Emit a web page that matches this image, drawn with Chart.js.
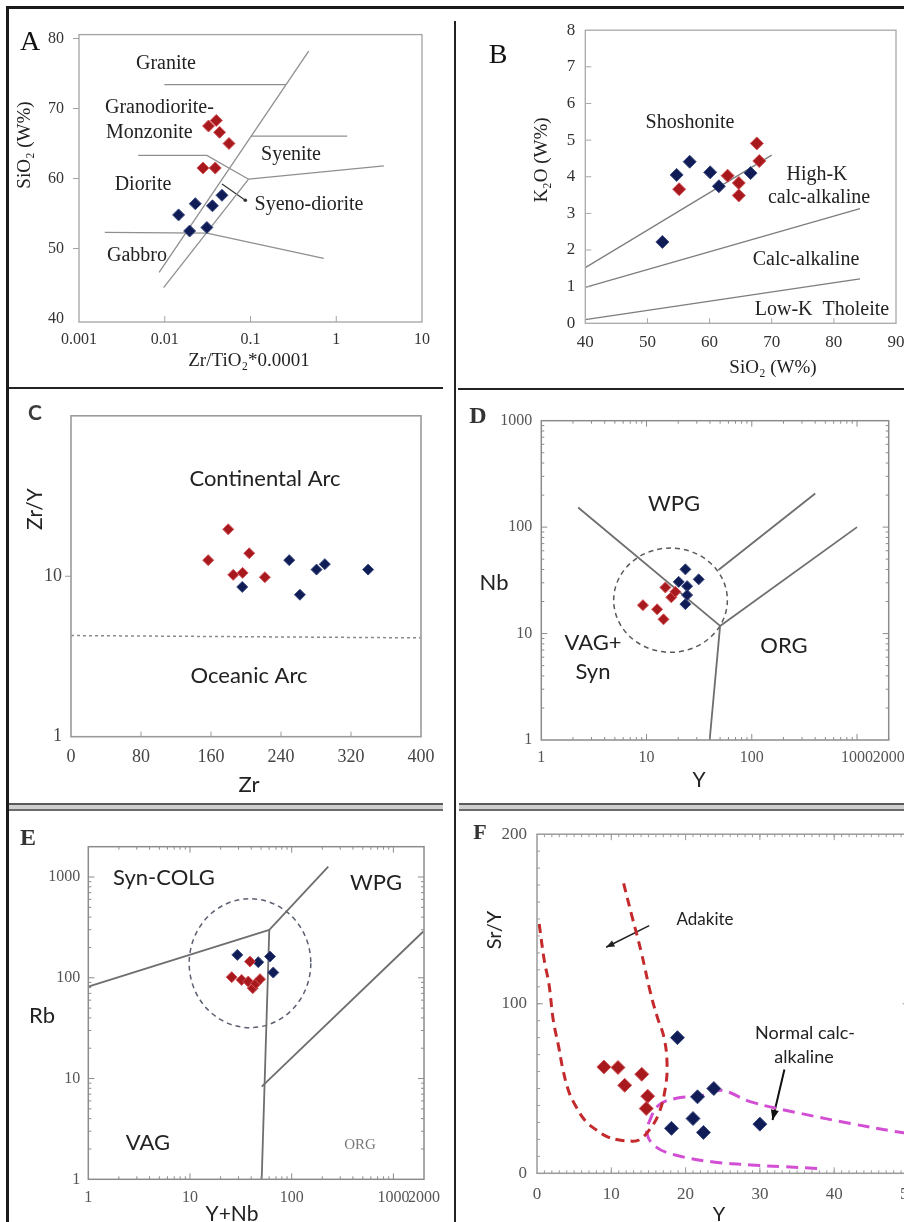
<!DOCTYPE html>
<html><head><meta charset="utf-8">
<script src="https://cdn.jsdelivr.net/npm/chart.js@4.4.1/dist/chart.umd.min.js"></script>
<style>
html,body{margin:0;padding:0;background:#fff;width:904px;height:1222px;overflow:hidden;position:relative}
canvas{position:absolute}
.ln{position:absolute;background:#1a1a1a}
.band{position:absolute;height:4px;background:#cfcfcf;border-top:2px solid #5a5a5a;border-bottom:2px solid #6a6a6a}
</style></head><body>
<canvas id="cA"></canvas>
<canvas id="cB"></canvas>
<canvas id="cC"></canvas>
<canvas id="cD"></canvas>
<canvas id="cE"></canvas>
<canvas id="cF"></canvas>
<div class="ln" style="left:6px;top:6px;width:898px;height:3px"></div>
<div class="ln" style="left:6px;top:6px;width:3px;height:1216px"></div>
<div class="ln" style="left:454px;top:21px;width:2px;height:1201px;background:#222"></div>
<div class="ln" style="left:9px;top:387px;width:434px;height:2px;background:#222"></div>
<div class="ln" style="left:458px;top:388px;width:446px;height:2px;background:#222"></div>
<div class="band" style="left:9px;top:803px;width:434px"></div>
<div class="band" style="left:459px;top:803px;width:445px"></div>
<script>
// ---------------- DATA ----------------
// Panel A: Zr/TiO2*0.0001 vs SiO2
const A_xTicks = [0.001, 0.01, 0.1, 1, 10];
const A_xLabels = ['0.001', '0.01', '0.1', '1', '10'];
const A_yTicks = [40, 50, 60, 70, 80];
const A_yLabels = ['40', '50', '60', '70', '80'];
const A_red = [[0.0324, 67.5], [0.0399, 68.3], [0.0436, 66.6], [0.0561, 65.0], [0.0279, 61.5], [0.0388, 61.5]];
const A_blue = [[0.0145, 54.8], [0.0227, 56.4], [0.0195, 52.5], [0.0310, 53.0], [0.0360, 56.1], [0.0465, 57.6]];
const A_fieldLines = [
  [[0.0086, 46.6], [0.477, 78.2]],
  [[0.0097, 44.4], [0.095, 59.9]],
  [[0.0099, 73.4], [0.259, 73.4]],
  [[0.0049, 63.3], [0.031, 63.3], [0.095, 59.9]],
  [[0.095, 59.9], [3.59, 61.8]],
  [[0.102, 66.05], [1.34, 66.05]],
  [[0.0020, 52.3], [0.031, 52.2], [0.714, 48.6]]
];
const A_pointer = [[0.0465, 59.2], [0.087, 56.9]];

// Panel B: SiO2 vs K2O
const B_xTicks = [40, 50, 60, 70, 80, 90];
const B_xLabels = ['40', '50', '60', '70', '80', '90'];
const B_yTicks = [0, 1, 2, 3, 4, 5, 6, 7, 8];
const B_yLabels = ['0', '1', '2', '3', '4', '5', '6', '7', '8'];
const B_red = [[55.1, 3.66], [62.9, 4.03], [64.7, 3.83], [64.7, 3.49], [67.6, 4.91], [68.0, 4.43]];
const B_blue = [[52.4, 2.22], [54.7, 4.05], [56.8, 4.41], [60.1, 4.12], [61.5, 3.74], [66.6, 4.10]];
const B_fieldLines = [
  [[40, 1.52], [70, 4.59]],
  [[40, 0.98], [84.2, 3.13]],
  [[40, 0.10], [84.2, 1.21]]
];

// Panel C: Zr vs Zr/Y
const C_xTicks = [0, 80, 160, 240, 320, 400];
const C_xLabels = ['0', '80', '160', '240', '320', '400'];
const C_yTicks = [1, 10];
const C_yLabels = ['1', '10'];
const C_red = [[156.8, 12.6], [179.7, 19.6], [185.4, 10.2], [196.1, 10.5], [203.7, 13.9], [221.6, 9.86]];
const C_blue = [[195.7, 8.58], [249.4, 12.6], [261.6, 7.67], [280.6, 11.0], [290.1, 11.9], [339.6, 11.0]];
const C_divider = [[0, 4.27], [400, 4.13]];

// Panel D: Y vs Nb
const D_xTicks = [1, 10, 100, 1000, 2000];
const D_xLabels = ['1', '10', '100', '1000', '2000'];
const D_yTicks = [1, 10, 100, 1000];
const D_yLabels = ['1', '10', '100', '1000'];
const D_red = [[9.24, 18.5], [12.6, 16.9], [14.5, 13.6], [15.1, 27.1], [17.2, 21.9], [18.8, 24.7]];
const D_blue = [[23.4, 40.1], [20.2, 30.6], [24.3, 27.9], [31.3, 32.3], [23.4, 18.9], [24.3, 23.0]];
const D_fieldLines = [
  [[2.24, 153], [50, 11.8]],
  [[50, 11.8], [39.8, 1]],
  [[50, 11.8], [1000, 100]],
  [[48.2, 39.5], [401, 207]]
];
const D_circle = [16.9, 20.6];

// Panel E: Y+Nb vs Rb
const E_xTicks = [1, 10, 100, 1000, 2000];
const E_xLabels = ['1', '10', '100', '1000', '2000'];
const E_yTicks = [1, 10, 100, 1000];
const E_yLabels = ['1', '10', '100', '1000'];
const E_red = [[38.9, 144.8], [25.7, 101.4], [32.2, 95.3], [37.4, 91.7], [41.4, 78.8], [44.5, 88.0], [48.8, 96.9]];
const E_blue = [[29.2, 168.8], [46.9, 142.9], [61.2, 162.5], [65.9, 112.7]];
const E_fieldLines = [
  [[1, 81.8], [60.2, 299]],
  [[60.2, 299], [229, 1271]],
  [[60.2, 299], [50.7, 1]],
  [[50.7, 8.31], [1968, 288]]
];
const E_circle = [38.9, 139.6];

// Panel F: Y vs Sr/Y
const F_xTicks = [0, 10, 20, 30, 40, 50];
const F_xLabels = ['0', '10', '20', '30', '40', '50'];
const F_yTicks = [0, 100, 200];
const F_yLabels = ['0', '100', '200'];
const F_red = [[9.0, 62.7], [10.9, 62.4], [11.8, 51.9], [14.1, 58.4], [14.9, 45.5], [14.7, 38.2]];
const F_blue = [[18.9, 80], [18.1, 26.5], [21.6, 45.1], [21.0, 32.3], [22.4, 24.1], [23.8, 50], [30.0, 29]];
const F_adakite = [[0.3, 147], [1.0, 125], [1.6, 112], [2.2, 90], [2.9, 75], [3.5, 61], [4.3, 48], [5.3, 39], [6.5, 31],
  [8.0, 25.5], [9.5, 21.5], [11.1, 19.6], [12.5, 19], [13.7, 19.6], [15.1, 25.5], [16.4, 35.3], [17.3, 51], [17.5, 65],
  [17.1, 80], [16.2, 92], [15.3, 106], [14.0, 131], [12.7, 153], [11.6, 172]];
const F_normal = [[37.7, 2.9], [33.3, 3.9], [28.8, 4.9], [23.5, 6.8], [18.6, 10.8], [16.0, 15.6], [14.8, 23.5], [15.2, 31.4],
  [16.4, 40.2], [18.6, 44.1], [22.6, 46.1], [24.8, 49], [28.8, 42.1], [35.5, 35.3], [42.2, 29.4], [48.4, 24.5], [52, 22.5]];
const F_arrows = [[[15.1, 146.1], [9.3, 133.3]], [[33.3, 61.2], [31.7, 31.4]]];

// ---------------- RENDERING ----------------
const SERIF = "'Liberation Serif','DejaVu Serif',serif";
const SANS = "Lato,'Open Sans','Noto Sans',sans-serif";
const RED = '#a8191d', BLUE = '#0f1c55';
const RED_EDGE = '#d2555a', BLUE_EDGE = '#3a4a80';
const DECO = {};

function logMinor(maxDec) {
  const out = [];
  for (let d = 1; d <= maxDec; d *= 10) for (let k = 2; k <= 9; k++) out.push(k * d);
  return out;
}
function range(a, b, s) { const o = []; for (let v = a; v <= b + 1e-9; v += s) o.push(v); return o; }

const decoPlugin = {
  id: 'deco',
  beforeDatasetsDraw(chart) {
    const d = DECO[chart.canvas.id]; if (!d) return;
    const ctx = chart.ctx, xs = chart.scales.x, ys = chart.scales.y, ca = chart.chartArea;
    ctx.save();
    ctx.beginPath(); ctx.rect(ca.left, ca.top, ca.right - ca.left, ca.bottom - ca.top); ctx.clip();
    (d.ellipses || []).forEach(e => {
      const cx = xs.getPixelForValue(e.c[0]), cy = ys.getPixelForValue(e.c[1]);
      const rx = Math.abs(xs.getPixelForValue(e.c[0] * Math.pow(10, e.r[0])) - xs.getPixelForValue(e.c[0] / Math.pow(10, e.r[0]))) / 2;
      const ry = Math.abs(ys.getPixelForValue(e.c[1] * Math.pow(10, e.r[1])) - ys.getPixelForValue(e.c[1] / Math.pow(10, e.r[1]))) / 2;
      ctx.setLineDash(e.dash); ctx.strokeStyle = e.color; ctx.lineWidth = e.width;
      ctx.beginPath(); ctx.ellipse(cx, cy, rx, ry, 0, 0, Math.PI * 2); ctx.stroke();
    });
    ctx.setLineDash([]);
    (d.arrows || []).forEach(a => {
      const x0 = xs.getPixelForValue(a.p[0][0]), y0 = ys.getPixelForValue(a.p[0][1]);
      const x1 = xs.getPixelForValue(a.p[1][0]), y1 = ys.getPixelForValue(a.p[1][1]);
      ctx.strokeStyle = a.color; ctx.fillStyle = a.color; ctx.lineWidth = a.width;
      ctx.beginPath(); ctx.moveTo(x0, y0); ctx.lineTo(x1, y1); ctx.stroke();
      if (a.head === 'dot') { ctx.beginPath(); ctx.arc(x1, y1, a.size, 0, Math.PI * 2); ctx.fill(); }
      else {
        const ang = Math.atan2(y1 - y0, x1 - x0), s = a.size;
        ctx.beginPath(); ctx.moveTo(x1, y1);
        ctx.lineTo(x1 - s * Math.cos(ang - 0.38), y1 - s * Math.sin(ang - 0.38));
        ctx.lineTo(x1 - s * Math.cos(ang + 0.38), y1 - s * Math.sin(ang + 0.38));
        ctx.closePath(); ctx.fill();
      }
    });
    ctx.restore();
  },
  afterDraw(chart) {
    const d = DECO[chart.canvas.id]; if (!d) return;
    const ctx = chart.ctx, ca = chart.chartArea;
    ctx.save();
    ctx.strokeStyle = d.frameColor; ctx.lineWidth = d.frameWidth;
    ctx.strokeRect(ca.left, ca.top, ca.right - ca.left, ca.bottom - ca.top);
    (d.ticks || []).forEach(t => {
      const sc = t.axis === 'x' ? chart.scales.x : chart.scales.y;
      ctx.strokeStyle = t.color || d.frameColor; ctx.lineWidth = t.width || 1;
      ctx.beginPath();
      t.values.forEach(v => {
        const p = sc.getPixelForValue(v);
        if (t.side === 'bottom') { ctx.moveTo(p, ca.bottom); ctx.lineTo(p, ca.bottom - t.len); }
        else if (t.side === 'top') { ctx.moveTo(p, ca.top); ctx.lineTo(p, ca.top + t.len); }
        else if (t.side === 'left') { ctx.moveTo(ca.left, p); ctx.lineTo(ca.left + t.len, p); }
        else { ctx.moveTo(ca.right, p); ctx.lineTo(ca.right - t.len, p); }
      });
      ctx.stroke();
    });
    (d.texts || []).forEach(t => {
      ctx.save();
      ctx.font = t.font; ctx.fillStyle = t.color || '#222';
      ctx.textAlign = t.align || 'center'; ctx.textBaseline = 'middle';
      ctx.translate(t.x - d.origin[0], t.y - d.origin[1]);
      if (t.rot) ctx.rotate(t.rot);
      ctx.fillText(t.t, 0, 0);
      ctx.restore();
    });
    ctx.restore();
  }
};
Chart.register(decoPlugin);

function pts(arr) { return arr.map(p => ({ x: p[0], y: p[1] })); }
function markers(arr, color, edge, r) {
  return { data: pts(arr), pointStyle: 'rectRot', pointRadius: r, backgroundColor: color, borderColor: edge, borderWidth: 1, showLine: false };
}
function line(arr, color, w, extra) {
  return Object.assign({ data: pts(arr), showLine: true, pointRadius: 0, borderColor: color, borderWidth: w, tension: 0, fill: false }, extra || {});
}
function axis(c, which, size) {
  return {
    type: c.type, min: c.min, max: c.max, position: which === 'x' ? 'bottom' : 'left',
    grid: { display: false, drawTicks: false }, border: { display: false },
    ticks: {
      autoSkip: false, maxRotation: 0, minRotation: 0, padding: c.pad, color: c.color,
      font: { family: c.family, size: c.size }, callback: (v, i) => c.labels[i]
    },
    afterBuildTicks: (s) => { s.ticks = c.values.map(v => ({ value: v })); },
    afterFit: (s) => { if (which === 'x') s.height = size; else s.width = size; }
  };
}
function makeChart(id, box, plot, xc, yc, datasets, deco) {
  const cv = document.getElementById(id);
  cv.width = box[2]; cv.height = box[3];
  cv.style.left = box[0] + 'px'; cv.style.top = box[1] + 'px';
  DECO[id] = Object.assign({ origin: [box[0], box[1]] }, deco);
  const padTop = plot[1] - box[1], padRight = box[0] + box[2] - plot[2];
  const yW = plot[0] - box[0], xH = box[1] + box[3] - plot[3];
  new Chart(cv, {
    type: 'scatter', data: { datasets },
    options: {
      responsive: false, animation: false, devicePixelRatio: 1, events: [],
      layout: { padding: { top: padTop, right: padRight, left: 0, bottom: 0 } },
      plugins: { legend: { display: false }, tooltip: { enabled: false } },
      scales: { x: axis(xc, 'x', xH), y: axis(yc, 'y', yW) }
    }
  });
}

// ---- Panel A ----
makeChart('cA', [8, 10, 442, 376], [79, 30, 422, 322],
  { type: 'logarithmic', min: 0.001, max: 10, values: A_xTicks, labels: A_xLabels, pad: 8, color: '#333', family: SERIF, size: 16 },
  { type: 'linear', min: 39.5, max: 80.56, values: A_yTicks, labels: A_yLabels, pad: 15, color: '#333', family: SERIF, size: 16 },
  [markers(A_red, RED, RED_EDGE, 6), markers(A_blue, BLUE, BLUE_EDGE, 6)].concat(A_fieldLines.map(l => line(l, '#8f8f8f', 1.3))),
  {
    frameColor: '#a3a3a3', frameWidth: 1.3,
    ticks: [{ axis: 'x', side: 'bottom', values: [0.01, 0.1, 1], len: 6 }, { axis: 'y', side: 'left', values: [50, 60, 70, 80], len: -6 }],
    arrows: [{ p: A_pointer, color: '#333', width: 1.2, head: 'dot', size: 1.8 }],
    texts: [
      { t: 'A', x: 30, y: 43, font: `28px ${SERIF}`, color: '#111' },
      { t: 'Granite', x: 166, y: 64, font: `20px ${SERIF}` },
      { t: 'Granodiorite-', x: 105, y: 108, font: `20px ${SERIF}`, align: 'left' },
      { t: 'Monzonite', x: 106, y: 133, font: `20px ${SERIF}`, align: 'left' },
      { t: 'Syenite', x: 291, y: 155, font: `20px ${SERIF}` },
      { t: 'Diorite', x: 143, y: 185, font: `20px ${SERIF}` },
      { t: 'Syeno-diorite', x: 309, y: 205, font: `20px ${SERIF}` },
      { t: 'Gabbro', x: 137, y: 256, font: `20px ${SERIF}` },
      { t: 'Zr/TiO₂*0.0001', x: 249, y: 361, font: `19px ${SERIF}` },
      { t: 'SiO₂ (W%)', x: 25, y: 145, font: `19px ${SERIF}`, rot: -Math.PI / 2 }
    ]
  });

// ---- Panel B ----
makeChart('cB', [458, 10, 460, 376], [585.3, 25.5, 896, 323.3],
  { type: 'linear', min: 40, max: 90, values: B_xTicks, labels: B_xLabels, pad: 9, color: '#333', family: SERIF, size: 17 },
  { type: 'linear', min: 0, max: 8, values: B_yTicks, labels: B_yLabels, pad: 10, color: '#333', family: SERIF, size: 17 },
  [markers(B_red, RED, RED_EDGE, 6.5), markers(B_blue, BLUE, BLUE_EDGE, 6.5)].concat(B_fieldLines.map(l => line(l, '#7d7d7d', 1.3))),
  {
    frameColor: '#a8a8a8', frameWidth: 1.3,
    ticks: [{ axis: 'x', side: 'bottom', values: [50, 60, 70, 80], len: 5 }, { axis: 'y', side: 'left', values: [1, 2, 3, 4, 5, 6, 7], len: 6 }],
    texts: [
      { t: 'B', x: 498, y: 56, font: `28px ${SERIF}`, color: '#111' },
      { t: 'Shoshonite', x: 690, y: 123, font: `20px ${SERIF}` },
      { t: 'High-K', x: 817, y: 175, font: `20px ${SERIF}` },
      { t: 'calc-alkaline', x: 819, y: 198, font: `20px ${SERIF}` },
      { t: 'Calc-alkaline', x: 806, y: 260, font: `20px ${SERIF}` },
      { t: 'Low-K  Tholeite', x: 822, y: 310, font: `20px ${SERIF}` },
      { t: 'SiO₂ (W%)', x: 773, y: 368, font: `19px ${SERIF}` },
      { t: 'K₂O (W%)', x: 542, y: 160, font: `19px ${SERIF}`, rot: -Math.PI / 2 }
    ]
  });

// ---- Panel C ----
makeChart('cC', [8, 396, 442, 404], [71, 407.3, 421, 736.7],
  { type: 'linear', min: 0, max: 400, values: C_xTicks, labels: C_xLabels, pad: 10, color: '#444', family: SERIF, size: 18 },
  { type: 'logarithmic', min: 1, max: 100, values: C_yTicks, labels: C_yLabels, pad: 9, color: '#444', family: SERIF, size: 18 },
  [markers(C_red, RED, RED_EDGE, 5.5), markers(C_blue, BLUE, BLUE_EDGE, 5.5), line(C_divider, '#8a8a8a', 1.5, { borderDash: [3, 3] })],
  {
    frameColor: '#9a9a9a', frameWidth: 1.6,
    ticks: [{ axis: 'x', side: 'bottom', values: [80, 160, 240, 320], len: 5 }, { axis: 'y', side: 'left', values: [10], len: -6 }],
    texts: [
      { t: 'C', x: 35, y: 413, font: `bold 21px ${SANS}`, color: '#3a3a3a' },
      { t: 'Continental Arc', x: 265, y: 479, font: `22px ${SANS}` },
      { t: 'Oceanic Arc', x: 249, y: 676, font: `22px ${SANS}` },
      { t: 'Zr', x: 249, y: 785, font: `22px ${SANS}` },
      { t: 'Zr/Y', x: 35, y: 509, font: `21px ${SANS}`, rot: -Math.PI / 2 }
    ]
  });

// ---- Panel D ----
const logMinorD = logMinor(100);
makeChart('cD', [458, 396, 460, 404], [541.3, 420.7, 888.7, 740],
  { type: 'logarithmic', min: 1, max: 2000, values: D_xTicks, labels: D_xLabels, pad: 8, color: '#555', family: SERIF, size: 16 },
  { type: 'logarithmic', min: 1, max: 1000, values: D_yTicks, labels: D_yLabels, pad: 9, color: '#555', family: SERIF, size: 16 },
  [markers(D_red, RED, RED_EDGE, 5.5), markers(D_blue, BLUE, BLUE_EDGE, 5.5)].concat(D_fieldLines.map(l => line(l, '#6e6e6e', 1.8))),
  {
    frameColor: '#8c8c8c', frameWidth: 1.5,
    ellipses: [{ c: D_circle, r: [0.54, 0.49], color: '#5a5a5a', width: 1.5, dash: [5, 4] }],
    ticks: [
      { axis: 'x', side: 'bottom', values: [10, 100, 1000], len: 6 }, { axis: 'x', side: 'top', values: [10, 100, 1000], len: 6 },
      { axis: 'x', side: 'bottom', values: logMinorD.concat([2000]), len: 3 }, { axis: 'x', side: 'top', values: logMinorD, len: 3 },
      { axis: 'y', side: 'left', values: [10, 100], len: 6 }, { axis: 'y', side: 'right', values: [10, 100], len: 6 },
      { axis: 'y', side: 'left', values: logMinorD, len: 3 }, { axis: 'y', side: 'right', values: logMinorD, len: 3 }
    ],
    texts: [
      { t: 'D', x: 478, y: 417, font: `bold 24px ${SERIF}`, color: '#333' },
      { t: 'WPG', x: 674, y: 504, font: `22px ${SANS}` },
      { t: 'VAG+', x: 593, y: 643, font: `22px ${SANS}` },
      { t: 'Syn', x: 593, y: 672, font: `22px ${SANS}` },
      { t: 'ORG', x: 784, y: 646, font: `22px ${SANS}` },
      { t: 'Nb', x: 494, y: 583, font: `22px ${SANS}` },
      { t: 'Y', x: 699, y: 780, font: `21px ${SANS}` }
    ]
  });

// ---- Panel E ----
makeChart('cE', [8, 814, 442, 408], [88.3, 846.7, 424, 1179.3],
  { type: 'logarithmic', min: 1, max: 2000, values: E_xTicks, labels: E_xLabels, pad: 9, color: '#555', family: SERIF, size: 16 },
  { type: 'logarithmic', min: 1, max: 2000, values: E_yTicks, labels: E_yLabels, pad: 8, color: '#555', family: SERIF, size: 16 },
  [markers(E_red, RED, RED_EDGE, 5.5), markers(E_blue, BLUE, BLUE_EDGE, 5.5)].concat(E_fieldLines.map(l => line(l, '#6e6e6e', 1.8))),
  {
    frameColor: '#8c8c8c', frameWidth: 1.5,
    ellipses: [{ c: E_circle, r: [0.598, 0.64], color: '#5a6070', width: 1.5, dash: [5, 4] }],
    ticks: [
      { axis: 'x', side: 'bottom', values: [10, 100, 1000], len: 6 }, { axis: 'x', side: 'top', values: [10, 100, 1000], len: 6 },
      { axis: 'x', side: 'bottom', values: logMinor(100), len: 3 }, { axis: 'x', side: 'top', values: logMinor(100), len: 3 },
      { axis: 'y', side: 'left', values: [10, 100, 1000], len: 6 }, { axis: 'y', side: 'right', values: [10, 100, 1000], len: 6 },
      { axis: 'y', side: 'left', values: logMinor(100), len: 3 }, { axis: 'y', side: 'right', values: logMinor(100), len: 3 }
    ],
    texts: [
      { t: 'E', x: 28, y: 839, font: `bold 24px ${SERIF}`, color: '#333' },
      { t: 'Syn-COLG', x: 164, y: 878, font: `22px ${SANS}` },
      { t: 'WPG', x: 376, y: 883, font: `22px ${SANS}` },
      { t: 'VAG', x: 148, y: 1143, font: `22px ${SANS}` },
      { t: 'ORG', x: 360, y: 1145, font: `15px ${SERIF}`, color: '#777' },
      { t: 'Rb', x: 42, y: 1016, font: `22px ${SANS}` },
      { t: 'Y+Nb', x: 232, y: 1214, font: `21px ${SANS}` }
    ]
  });

// ---- Panel F ----
makeChart('cF', [458, 814, 470, 408], [537, 832.5, 910, 1173.3],
  { type: 'linear', min: 0, max: 50, values: F_xTicks, labels: F_xLabels, pad: 11, color: '#555', family: SERIF, size: 17 },
  { type: 'linear', min: 0, max: 200, values: F_yTicks, labels: F_yLabels, pad: 10, color: '#555', family: SERIF, size: 17 },
  [markers(F_red, RED, RED_EDGE, 7), markers(F_blue, BLUE, BLUE_EDGE, 7),
   line(F_adakite, '#c42a2c', 3, { tension: 0.4, borderDash: [9, 6] }),
   line(F_normal, '#d24fd4', 3, { tension: 0.4, borderDash: [12, 7] })],
  {
    frameColor: '#9a9a9a', frameWidth: 1.5,
    arrows: [
      { p: F_arrows[0], color: '#222', width: 1.5, head: 'tri', size: 9 },
      { p: F_arrows[1], color: '#111', width: 2, head: 'tri', size: 11 }
    ],
    ticks: [
      { axis: 'x', side: 'bottom', values: [10, 20, 30, 40], len: 6 }, { axis: 'x', side: 'top', values: [10, 20, 30, 40], len: 6 },
      { axis: 'x', side: 'bottom', values: range(1, 49, 1), len: 3 }, { axis: 'x', side: 'top', values: range(1, 49, 1), len: 3 },
      { axis: 'y', side: 'left', values: [100], len: 6 }, { axis: 'y', side: 'right', values: [100], len: 6 },
      { axis: 'y', side: 'left', values: range(10, 190, 10), len: 3 }, { axis: 'y', side: 'right', values: range(10, 190, 10), len: 3 }
    ],
    texts: [
      { t: 'F', x: 480, y: 833, font: `bold 22px ${SERIF}`, color: '#333' },
      { t: 'Adakite', x: 705, y: 920, font: `17px ${SANS}` },
      { t: 'Normal calc-', x: 805, y: 1033, font: `18px ${SANS}` },
      { t: 'alkaline', x: 804, y: 1057, font: `18px ${SANS}` },
      { t: 'Sr/Y', x: 495, y: 930, font: `20px ${SANS}`, rot: -Math.PI / 2 },
      { t: 'Y', x: 719, y: 1215, font: `20px ${SANS}` }
    ]
  });
</script>
</body></html>
